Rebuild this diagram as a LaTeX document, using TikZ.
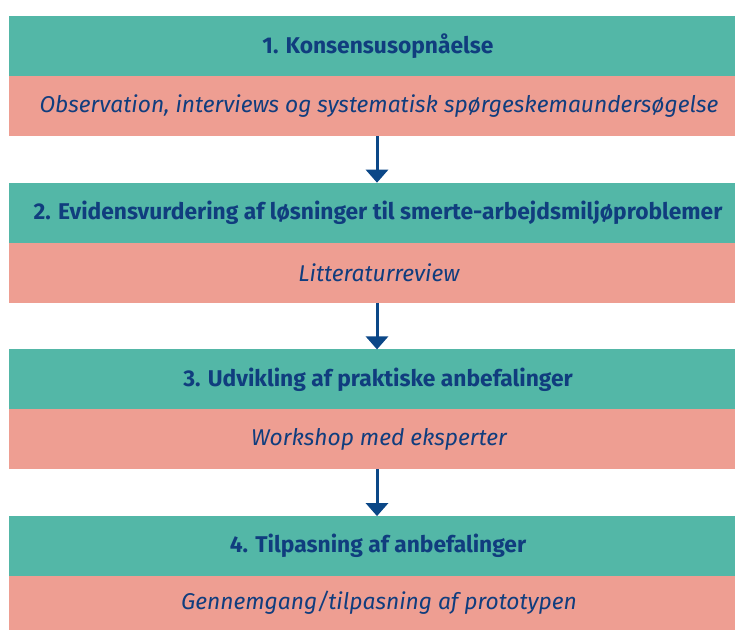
\documentclass[tikz,border=0pt]{standalone}
\usepackage{fontspec}
\setmainfont{Fira Sans}
\usepackage{xcolor}
\usetikzlibrary{arrows.meta,positioning}

\definecolor{stagegreen}{HTML}{53B7A7}
\definecolor{rose}{HTML}{EE9E92}
\definecolor{navy}{HTML}{103D7E}
\definecolor{arrowblue}{HTML}{0B4787}

\begin{document}
\begin{tikzpicture}[
    stage/.style={rectangle, fill=stagegreen, minimum width=726pt, minimum height=60pt,
      inner sep=0pt, outer sep=0pt, text=navy, font=\fontsize{22.8}{26}\selectfont\bfseries,
      execute at begin node={\hspace*{12pt}}},
    method/.style={rectangle, fill=rose, minimum width=726pt, minimum height=60pt,
      inner sep=0pt, outer sep=0pt, text=navy, font=\fontsize{22.8}{26}\selectfont\itshape,
      execute at begin node={\hspace*{14pt}}},
    flow/.style={-{Triangle[width=22pt,length=13pt]}, line width=3pt, draw=arrowblue},
    node distance=0pt
    ]
    \useasboundingbox (0pt,0pt) rectangle (735pt,-630pt);
    \node[stage] (Konsensus) at (372pt,-46pt) {1. Konsensusopnåelse};
    \node[method, below=0pt of Konsensus] (KonsensusMetode)
      {Observation, interviews og systematisk spørgeskemaundersøgelse};
    \node[stage, below=46.7pt of KonsensusMetode] (Evidens)
      {2. Evidensvurdering af løsninger til smerte-arbejdsmiljøproblemer};
    \node[method, below=0pt of Evidens] (EvidensMetode) {Litteraturreview};
    \node[stage, below=46.7pt of EvidensMetode] (Udvikling)
      {3. Udvikling af praktiske anbefalinger};
    \node[method, below=0pt of Udvikling] (UdviklingMetode) {Workshop med eksperter};
    \node[stage, below=46.7pt of UdviklingMetode] (Tilpasning)
      {4. Tilpasning af anbefalinger};
    \node[method, below=0pt of Tilpasning, minimum height=54pt] (TilpasningMetode)
      {Gennemgang/tilpasning af prototypen};
    \draw[flow] ([xshift=5pt]KonsensusMetode.south) -- ([xshift=5pt]Evidens.north);
    \draw[flow] ([xshift=5pt]EvidensMetode.south) -- ([xshift=5pt]Udvikling.north);
    \draw[flow] ([xshift=5pt]UdviklingMetode.south) -- ([xshift=5pt]Tilpasning.north);
  \end{tikzpicture}
\end{document}
